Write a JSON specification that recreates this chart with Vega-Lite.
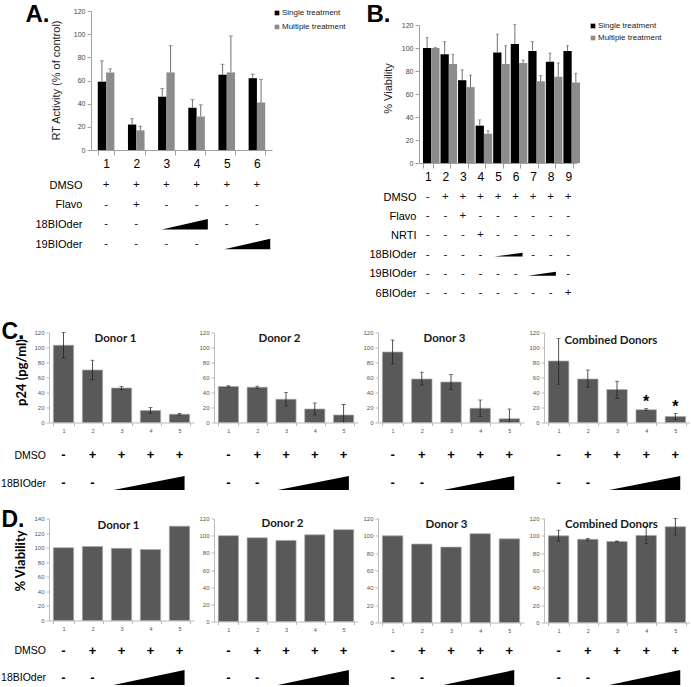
{
  "$schema": "https://vega.github.io/schema/vega-lite/v6.json",
  "padding": {"left": 0, "top": 2, "right": 0, "bottom": 0},
  "background": "white",
  "config": {
    "view": {"stroke": null},
    "font": "Liberation Sans",
    "axis": {"grid": false, "labelFont": "Liberation Sans", "titleFont": "Liberation Sans"}
  },
  "datasets": {
    "A": [
      {"cat": "1", "series": "Single treatment", "value": 59, "hi": 77},
      {"cat": "1", "series": "Multiple treatment", "value": 67, "hi": 70},
      {"cat": "2", "series": "Single treatment", "value": 22, "hi": 27},
      {"cat": "2", "series": "Multiple treatment", "value": 17, "hi": 20.5},
      {"cat": "3", "series": "Single treatment", "value": 46, "hi": 53},
      {"cat": "3", "series": "Multiple treatment", "value": 67, "hi": 90},
      {"cat": "4", "series": "Single treatment", "value": 36.5, "hi": 43.5},
      {"cat": "4", "series": "Multiple treatment", "value": 29, "hi": 39},
      {"cat": "5", "series": "Single treatment", "value": 65, "hi": 74},
      {"cat": "5", "series": "Multiple treatment", "value": 67, "hi": 98.5},
      {"cat": "6", "series": "Single treatment", "value": 62, "hi": 65.5},
      {"cat": "6", "series": "Multiple treatment", "value": 41, "hi": 61}
    ],
    "Atab": [
      {"row": "DMSO", "col": 1, "sym": "+"}, {"row": "DMSO", "col": 2, "sym": "+"}, {"row": "DMSO", "col": 3, "sym": "+"},
      {"row": "DMSO", "col": 4, "sym": "+"}, {"row": "DMSO", "col": 5, "sym": "+"}, {"row": "DMSO", "col": 6, "sym": "+"},
      {"row": "Flavo", "col": 1, "sym": "-"}, {"row": "Flavo", "col": 2, "sym": "+"}, {"row": "Flavo", "col": 3, "sym": "-"},
      {"row": "Flavo", "col": 4, "sym": "-"}, {"row": "Flavo", "col": 5, "sym": "-"}, {"row": "Flavo", "col": 6, "sym": "-"},
      {"row": "18BIOder", "col": 1, "sym": "-"}, {"row": "18BIOder", "col": 2, "sym": "-"},
      {"row": "18BIOder", "col": 5, "sym": "-"}, {"row": "18BIOder", "col": 6, "sym": "-"},
      {"row": "19BIOder", "col": 1, "sym": "-"}, {"row": "19BIOder", "col": 2, "sym": "-"},
      {"row": "19BIOder", "col": 3, "sym": "-"}, {"row": "19BIOder", "col": 4, "sym": "-"}
    ],
    "Atri": [{"row": "18BIOder", "col": 3.61}, {"row": "19BIOder", "col": 5.68}],
    "B": [
      {"cat": "1", "series": "Single treatment", "value": 100, "hi": 109},
      {"cat": "1", "series": "Multiple treatment", "value": 100, "hi": 100.5},
      {"cat": "2", "series": "Single treatment", "value": 94.5, "hi": 105.5},
      {"cat": "2", "series": "Multiple treatment", "value": 86, "hi": 94.5},
      {"cat": "3", "series": "Single treatment", "value": 72, "hi": 81},
      {"cat": "3", "series": "Multiple treatment", "value": 66, "hi": 76.5},
      {"cat": "4", "series": "Single treatment", "value": 32.5, "hi": 37.5},
      {"cat": "4", "series": "Multiple treatment", "value": 25.5, "hi": 28},
      {"cat": "5", "series": "Single treatment", "value": 96, "hi": 112},
      {"cat": "5", "series": "Multiple treatment", "value": 86, "hi": 102},
      {"cat": "6", "series": "Single treatment", "value": 103.5, "hi": 120.5},
      {"cat": "6", "series": "Multiple treatment", "value": 87, "hi": 89.5},
      {"cat": "7", "series": "Single treatment", "value": 97.5, "hi": 105.5},
      {"cat": "7", "series": "Multiple treatment", "value": 71, "hi": 76},
      {"cat": "8", "series": "Single treatment", "value": 88, "hi": 95.5},
      {"cat": "8", "series": "Multiple treatment", "value": 75, "hi": 87},
      {"cat": "9", "series": "Single treatment", "value": 97.5, "hi": 102},
      {"cat": "9", "series": "Multiple treatment", "value": 70, "hi": 78}
    ],
    "Btab": [
      {"row": "DMSO", "col": 1, "sym": "-"}, {"row": "DMSO", "col": 2, "sym": "+"}, {"row": "DMSO", "col": 3, "sym": "+"},
      {"row": "DMSO", "col": 4, "sym": "+"}, {"row": "DMSO", "col": 5, "sym": "+"}, {"row": "DMSO", "col": 6, "sym": "+"},
      {"row": "DMSO", "col": 7, "sym": "+"}, {"row": "DMSO", "col": 8, "sym": "+"}, {"row": "DMSO", "col": 9, "sym": "+"},
      {"row": "Flavo", "col": 1, "sym": "-"}, {"row": "Flavo", "col": 2, "sym": "-"}, {"row": "Flavo", "col": 3, "sym": "+"},
      {"row": "Flavo", "col": 4, "sym": "-"}, {"row": "Flavo", "col": 5, "sym": "-"}, {"row": "Flavo", "col": 6, "sym": "-"},
      {"row": "Flavo", "col": 7, "sym": "-"}, {"row": "Flavo", "col": 8, "sym": "-"}, {"row": "Flavo", "col": 9, "sym": "-"},
      {"row": "NRTI", "col": 1, "sym": "-"}, {"row": "NRTI", "col": 2, "sym": "-"}, {"row": "NRTI", "col": 3, "sym": "-"},
      {"row": "NRTI", "col": 4, "sym": "+"}, {"row": "NRTI", "col": 5, "sym": "-"}, {"row": "NRTI", "col": 6, "sym": "-"},
      {"row": "NRTI", "col": 7, "sym": "-"}, {"row": "NRTI", "col": 8, "sym": "-"}, {"row": "NRTI", "col": 9, "sym": "-"},
      {"row": "18BIOder", "col": 1, "sym": "-"}, {"row": "18BIOder", "col": 2, "sym": "-"}, {"row": "18BIOder", "col": 3, "sym": "-"},
      {"row": "18BIOder", "col": 4, "sym": "-"}, {"row": "18BIOder", "col": 7, "sym": "-"}, {"row": "18BIOder", "col": 8, "sym": "-"},
      {"row": "18BIOder", "col": 9, "sym": "-"},
      {"row": "19BIOder", "col": 1, "sym": "-"}, {"row": "19BIOder", "col": 2, "sym": "-"}, {"row": "19BIOder", "col": 3, "sym": "-"},
      {"row": "19BIOder", "col": 4, "sym": "-"}, {"row": "19BIOder", "col": 5, "sym": "-"}, {"row": "19BIOder", "col": 6, "sym": "-"},
      {"row": "19BIOder", "col": 9, "sym": "-"},
      {"row": "6BIOder", "col": 1, "sym": "-"}, {"row": "6BIOder", "col": 2, "sym": "-"}, {"row": "6BIOder", "col": 3, "sym": "-"},
      {"row": "6BIOder", "col": 4, "sym": "-"}, {"row": "6BIOder", "col": 5, "sym": "-"}, {"row": "6BIOder", "col": 6, "sym": "-"},
      {"row": "6BIOder", "col": 7, "sym": "-"}, {"row": "6BIOder", "col": 8, "sym": "-"}, {"row": "6BIOder", "col": 9, "sym": "+"}
    ],
    "Btri": [{"row": "18BIOder", "col": 5.6}, {"row": "19BIOder", "col": 7.5}],
    "CD": [
      {"panel": "C1", "col": "1", "value": 103, "lo": 86, "hi": 120},
      {"panel": "C1", "col": "2", "value": 70, "lo": 57, "hi": 83},
      {"panel": "C1", "col": "3", "value": 46, "lo": 44, "hi": 48},
      {"panel": "C1", "col": "4", "value": 16, "lo": 12, "hi": 20},
      {"panel": "C1", "col": "5", "value": 11, "lo": 10, "hi": 12},
      {"panel": "C2", "col": "1", "value": 48, "lo": 47, "hi": 49},
      {"panel": "C2", "col": "2", "value": 47, "lo": 45.5, "hi": 48.5},
      {"panel": "C2", "col": "3", "value": 31, "lo": 22, "hi": 40},
      {"panel": "C2", "col": "4", "value": 18, "lo": 10, "hi": 26},
      {"panel": "C2", "col": "5", "value": 10, "lo": 0, "hi": 24},
      {"panel": "C3", "col": "1", "value": 94, "lo": 78, "hi": 110},
      {"panel": "C3", "col": "2", "value": 58, "lo": 50, "hi": 67},
      {"panel": "C3", "col": "3", "value": 54, "lo": 44, "hi": 64},
      {"panel": "C3", "col": "4", "value": 19, "lo": 8, "hi": 30},
      {"panel": "C3", "col": "5", "value": 5, "lo": 0, "hi": 18},
      {"panel": "C4", "col": "1", "value": 82, "lo": 51, "hi": 112},
      {"panel": "C4", "col": "2", "value": 58, "lo": 47, "hi": 70},
      {"panel": "C4", "col": "3", "value": 44, "lo": 32, "hi": 55},
      {"panel": "C4", "col": "4", "value": 17, "lo": 16, "hi": 18.5, "sig": "*"},
      {"panel": "C4", "col": "5", "value": 8, "lo": 4, "hi": 12, "sig": "*"},
      {"panel": "D1", "col": "1", "value": 100},
      {"panel": "D1", "col": "2", "value": 101.5},
      {"panel": "D1", "col": "3", "value": 99},
      {"panel": "D1", "col": "4", "value": 97.5},
      {"panel": "D1", "col": "5", "value": 129.5},
      {"panel": "D2", "col": "1", "value": 100},
      {"panel": "D2", "col": "2", "value": 97.5},
      {"panel": "D2", "col": "3", "value": 94.5},
      {"panel": "D2", "col": "4", "value": 101},
      {"panel": "D2", "col": "5", "value": 107},
      {"panel": "D3", "col": "1", "value": 100},
      {"panel": "D3", "col": "2", "value": 90.5},
      {"panel": "D3", "col": "3", "value": 87},
      {"panel": "D3", "col": "4", "value": 102.5},
      {"panel": "D3", "col": "5", "value": 96.5},
      {"panel": "D4", "col": "1", "value": 100, "lo": 94, "hi": 106.5},
      {"panel": "D4", "col": "2", "value": 96, "lo": 95, "hi": 97},
      {"panel": "D4", "col": "3", "value": 93.5, "lo": 93, "hi": 94},
      {"panel": "D4", "col": "4", "value": 100.5, "lo": 91, "hi": 111},
      {"panel": "D4", "col": "5", "value": 110.5, "lo": 101, "hi": 120}
    ],
    "CDtab": [
      {"row": "DMSO", "col": 1, "sym": "-"}, {"row": "DMSO", "col": 2, "sym": "+"}, {"row": "DMSO", "col": 3, "sym": "+"},
      {"row": "DMSO", "col": 4, "sym": "+"}, {"row": "DMSO", "col": 5, "sym": "+"},
      {"row": "18BIOder", "col": 1, "sym": "-"}, {"row": "18BIOder", "col": 2, "sym": "-"}
    ],
    "CDtri": [{"row": "18BIOder", "col": 3.95}]
  },
  "spacing": 20.5,
  "resolve": {"scale": {"color": "independent"}, "legend": {"color": "independent"}},
  "vconcat": [
    {
      "hconcat": [
        {"width": 41, "height": 20, "data": {"values": []}, "mark": "point", "encoding": {}},
        {
          "width": 181, "height": 139,
          "layer": [
            {
              "data": {"name": "A"},
              "encoding": {
                "x": {"field": "cat", "type": "ordinal", "scale": {"paddingInner": 0.45, "paddingOuter": 0.225},
                  "axis": {"title": null, "labelAngle": 0, "labelFontSize": 12, "labelColor": "#000", "tickBand": "extent", "tickSize": 5, "tickColor": "#a0a0a0", "domainColor": "#a0a0a0", "labelPadding": 3}},
                "xOffset": {"field": "series", "type": "nominal", "sort": ["Single treatment", "Multiple treatment"]}
              },
              "layer": [
                {"mark": {"type": "bar"},
                 "encoding": {
                   "y": {"field": "value", "type": "quantitative", "scale": {"domain": [0, 120]},
                     "axis": {"values": [0, 20, 40, 60, 80, 100, 120], "title": "RT Activity (% of control)", "titleX": -35, "titleY": 69, "titleBaseline": "middle", "titleFontSize": 11, "titleFontWeight": "normal", "titleColor": "#222", "labelFontSize": 7, "labelColor": "#444", "tickSize": 4, "tickColor": "#a0a0a0", "domainColor": "#a0a0a0", "labelPadding": 2}},
                   "color": {"field": "series", "type": "nominal", "sort": ["Single treatment", "Multiple treatment"],
                     "scale": {"domain": ["Single treatment", "Multiple treatment"], "range": ["#000000", "#8c8c8c"]},
                     "legend": {"orient": "none", "legendX": 182, "legendY": -2, "title": null, "symbolType": "square", "symbolSize": 22, "labelFontSize": 8, "labelFont": "Liberation Sans", "labelColor": "#222", "rowPadding": 6, "labelOffset": 1, "padding": 0}}
                 }},
                {"mark": {"type": "rule", "color": "#707070", "strokeWidth": 1},
                 "encoding": {"y": {"field": "value", "type": "quantitative", "scale": {"domain": [0, 120]},
                     "axis": {"values": [0, 20, 40, 60, 80, 100, 120], "title": "RT Activity (% of control)", "titleX": -35, "titleY": 69, "titleBaseline": "middle", "titleFontSize": 11, "titleFontWeight": "normal", "titleColor": "#222", "labelFontSize": 7, "labelColor": "#444", "tickSize": 4, "tickColor": "#a0a0a0", "domainColor": "#a0a0a0", "labelPadding": 2}},
                   "y2": {"field": "hi"}}},
                {"mark": {"type": "tick", "color": "#707070", "size": 4, "thickness": 1},
                 "encoding": {"y": {"field": "hi", "type": "quantitative", "scale": {"domain": [0, 120]},
                     "axis": {"values": [0, 20, 40, 60, 80, 100, 120], "title": "RT Activity (% of control)", "titleX": -35, "titleY": 69, "titleBaseline": "middle", "titleFontSize": 11, "titleFontWeight": "normal", "titleColor": "#222", "labelFontSize": 7, "labelColor": "#444", "tickSize": 4, "tickColor": "#a0a0a0", "domainColor": "#a0a0a0", "labelPadding": 2}}}}
              ]
            },
            {
              "encoding": {
                "x": {"field": "col", "type": "quantitative", "scale": {"domain": [0.5, 6.5], "nice": false, "zero": false}, "axis": null},
                "y": {"field": "row", "type": "nominal", "scale": {"type": "point", "domain": ["DMSO", "Flavo", "18BIOder", "19BIOder"], "range": [174, 233], "padding": 0},
                  "axis": {"orient": "left", "domain": false, "ticks": false, "labelPadding": 9, "labelFontSize": 11, "labelColor": "#000", "title": "A.", "titleAngle": 0, "titleX": -66, "titleY": 10, "titleAlign": "left", "titleBaseline": "alphabetic", "titleFontSize": 24, "titleFontWeight": "bold", "titleColor": "#000"}}
              },
              "layer": [
                {"data": {"name": "Atab"}, "mark": {"type": "text", "fontSize": 11.5, "color": "#111", "baseline": "middle"}, "encoding": {"text": {"field": "sym"}}},
                {"data": {"name": "Atri"}, "mark": {"type": "point", "shape": "M-1,0.23L1,0.23L1,-0.23Z", "size": 2116, "filled": true, "color": "#000", "opacity": 1, "strokeWidth": 0}}
              ]
            }
          ],
          "resolve": {"scale": {"x": "independent", "y": "independent"}}
        },
        {"width": 145, "height": 20, "data": {"values": []}, "mark": "point", "encoding": {}},
        {
          "width": 158, "height": 152,
          "layer": [
            {
              "data": {"name": "B"},
              "encoding": {
                "x": {"field": "cat", "type": "ordinal", "scale": {"paddingInner": 0.45, "paddingOuter": 0.225},
                  "axis": {"title": null, "labelAngle": 0, "labelFontSize": 12, "labelColor": "#000", "tickBand": "extent", "tickSize": 5, "tickColor": "#a0a0a0", "domainColor": "#a0a0a0", "labelPadding": 3}},
                "xOffset": {"field": "series", "type": "nominal", "sort": ["Single treatment", "Multiple treatment"]}
              },
              "layer": [
                {"mark": {"type": "bar"},
                 "encoding": {
                   "y": {"field": "value", "type": "quantitative", "scale": {"domain": [0, 120], "range": [152, 14]},
                     "axis": {"values": [0, 20, 40, 60, 80, 100, 120], "title": "% Viability", "titleX": -30.5, "titleY": 77, "titleBaseline": "middle", "titleFontSize": 11, "titleFontWeight": "normal", "titleColor": "#222", "labelFontSize": 7, "labelColor": "#444", "tickSize": 4, "tickColor": "#a0a0a0", "domainColor": "#a0a0a0", "labelPadding": 2}},
                   "color": {"field": "series", "type": "nominal", "sort": ["Single treatment", "Multiple treatment"],
                     "scale": {"domain": ["Single treatment", "Multiple treatment"], "range": ["#000000", "#8c8c8c"]},
                     "legend": {"orient": "none", "legendX": 170, "legendY": 11, "title": null, "symbolType": "square", "symbolSize": 22, "labelFontSize": 8, "labelFont": "Liberation Sans", "labelColor": "#222", "rowPadding": 4, "labelOffset": 1, "padding": 0}}
                 }},
                {"mark": {"type": "rule", "color": "#707070", "strokeWidth": 1},
                 "encoding": {"y": {"field": "value", "type": "quantitative", "scale": {"domain": [0, 120], "range": [152, 14]},
                     "axis": {"values": [0, 20, 40, 60, 80, 100, 120], "title": "% Viability", "titleX": -30.5, "titleY": 77, "titleBaseline": "middle", "titleFontSize": 11, "titleFontWeight": "normal", "titleColor": "#222", "labelFontSize": 7, "labelColor": "#444", "tickSize": 4, "tickColor": "#a0a0a0", "domainColor": "#a0a0a0", "labelPadding": 2}},
                   "y2": {"field": "hi"}}},
                {"mark": {"type": "tick", "color": "#707070", "size": 3, "thickness": 1},
                 "encoding": {"y": {"field": "hi", "type": "quantitative", "scale": {"domain": [0, 120], "range": [152, 14]},
                     "axis": {"values": [0, 20, 40, 60, 80, 100, 120], "title": "% Viability", "titleX": -30.5, "titleY": 77, "titleBaseline": "middle", "titleFontSize": 11, "titleFontWeight": "normal", "titleColor": "#222", "labelFontSize": 7, "labelColor": "#444", "tickSize": 4, "tickColor": "#a0a0a0", "domainColor": "#a0a0a0", "labelPadding": 2}}}}
              ]
            },
            {
              "encoding": {
                "x": {"field": "col", "type": "quantitative", "scale": {"domain": [0.5, 9.5], "nice": false, "zero": false}, "axis": null},
                "y": {"field": "row", "type": "nominal", "scale": {"type": "point", "domain": ["DMSO", "Flavo", "NRTI", "18BIOder", "19BIOder", "6BIOder"], "range": [186, 282], "padding": 0},
                  "axis": {"orient": "left", "domain": false, "ticks": false, "labelPadding": 3, "labelFontSize": 11, "labelColor": "#000", "title": "B.", "titleAngle": 0, "titleX": -53, "titleY": 10, "titleAlign": "left", "titleBaseline": "alphabetic", "titleFontSize": 24, "titleFontWeight": "bold", "titleColor": "#000"}}
              },
              "layer": [
                {"data": {"name": "Btab"}, "mark": {"type": "text", "fontSize": 11.5, "color": "#111", "baseline": "middle"}, "encoding": {"text": {"field": "sym"}}},
                {"data": {"name": "Btri"}, "mark": {"type": "point", "shape": "M-1,0.14L1,0.14L1,-0.14Z", "size": 784, "filled": true, "color": "#000", "opacity": 1, "strokeWidth": 0}}
              ]
            }
          ],
          "resolve": {"scale": {"x": "independent", "y": "independent"}}
        }
      ],
      "spacing": 1,
      "bounds": "flush",
      "resolve": {"scale": {"color": "independent"}, "legend": {"color": "independent"}}
    },
    {
      "spacing": 18,
      "vconcat": [
        {
          "hconcat": [
            {
              "width": 145, "height": 90,
              "layer": [
                {"data": {"name": "CD"}, "transform": [{"filter": "datum.panel === 'C1'"}],
                 "encoding": {"x": {"field": "col", "type": "ordinal", "scale": {"paddingInner": 0.3, "paddingOuter": 0.15}, "axis": {"title": null, "labelAngle": 0, "labelFontSize": 5.5, "labelColor": "#555", "tickBand": "extent", "tickSize": 3, "tickColor": "#bbb", "domainColor": "#bbb", "labelPadding": 3}}},
                 "layer": [
                   {"mark": {"type": "bar", "color": "#595959", "stroke": "#aaaaaa", "strokeWidth": 0.7},
                    "encoding": {"y": {"field": "value", "type": "quantitative", "scale": {"domain": [0, 120]}, "axis": {"values": [0, 20, 40, 60, 80, 100, 120], "title": "p24 (pg/ml)", "titleX": -28, "titleY": 39.5, "titleBaseline": "middle", "titleFont": "Lato", "titleFontSize": 13, "titleFontWeight": "bold", "titleColor": "#000", "labelFontSize": 6, "labelColor": "#555", "tickSize": 3, "tickColor": "#bbb", "domainColor": "#bbb", "labelPadding": 2}}}},
                   {"transform": [{"filter": "isValid(datum.hi)"}], "mark": {"type": "rule", "color": "#222", "strokeWidth": 0.8},
                    "encoding": {"y": {"field": "lo", "type": "quantitative", "scale": {"domain": [0, 120]}, "axis": {"values": [0, 20, 40, 60, 80, 100, 120], "title": "p24 (pg/ml)", "titleX": -28, "titleY": 39.5, "titleBaseline": "middle", "titleFont": "Lato", "titleFontSize": 13, "titleFontWeight": "bold", "titleColor": "#000", "labelFontSize": 6, "labelColor": "#555", "tickSize": 3, "tickColor": "#bbb", "domainColor": "#bbb", "labelPadding": 2}}, "y2": {"field": "hi"}}},
                   {"transform": [{"filter": "isValid(datum.hi)"}], "mark": {"type": "tick", "color": "#222", "size": 4, "thickness": 0.8},
                    "encoding": {"y": {"field": "hi", "type": "quantitative", "scale": {"domain": [0, 120]}, "axis": {"values": [0, 20, 40, 60, 80, 100, 120], "title": "p24 (pg/ml)", "titleX": -28, "titleY": 39.5, "titleBaseline": "middle", "titleFont": "Lato", "titleFontSize": 13, "titleFontWeight": "bold", "titleColor": "#000", "labelFontSize": 6, "labelColor": "#555", "tickSize": 3, "tickColor": "#bbb", "domainColor": "#bbb", "labelPadding": 2}}}},
                   {"transform": [{"filter": "isValid(datum.hi)"}], "mark": {"type": "tick", "color": "#222", "size": 4, "thickness": 0.8},
                    "encoding": {"y": {"field": "lo", "type": "quantitative", "scale": {"domain": [0, 120]}, "axis": {"values": [0, 20, 40, 60, 80, 100, 120], "title": "p24 (pg/ml)", "titleX": -28, "titleY": 39.5, "titleBaseline": "middle", "titleFont": "Lato", "titleFontSize": 13, "titleFontWeight": "bold", "titleColor": "#000", "labelFontSize": 6, "labelColor": "#555", "tickSize": 3, "tickColor": "#bbb", "domainColor": "#bbb", "labelPadding": 2}}}}
                 ]},
                {"encoding": {
                   "x": {"field": "col", "type": "quantitative", "scale": {"domain": [0.5, 5.5], "nice": false, "zero": false},
                     "axis": {"orient": "top", "labels": false, "ticks": false, "domain": false, "title": "Donor 1", "titleX": 66, "titleY": 8.5, "titleAlign": "center", "titleBaseline": "alphabetic", "titleFont": "Lato", "titleFontSize": 11.5, "titleFontWeight": "bold", "titleColor": "#1a1a1a"}},
                   "y": {"field": "row", "type": "nominal", "scale": {"type": "point", "domain": ["DMSO", "18BIOder"], "range": [122.5, 150.5], "padding": 0},
                     "axis": {"orient": "left", "domain": false, "ticks": false, "labelPadding": 3.5, "labelFontSize": 10.5, "labelColor": "#000", "title": "C.", "titleAngle": 0, "titleX": -48, "titleY": 5.5, "titleAlign": "left", "titleBaseline": "alphabetic", "titleFontSize": 23, "titleFontWeight": "bold", "titleColor": "#000"}}},
                 "layer": [
                   {"data": {"name": "CDtab"}, "mark": {"type": "text", "fontSize": 13, "fontWeight": "bold", "color": "#000", "baseline": "middle"}, "encoding": {"text": {"field": "sym"}}},
                   {"data": {"name": "CDtri"}, "mark": {"type": "point", "shape": "M-1,0.2L1,0.2L1,-0.2Z", "size": 5041, "filled": true, "color": "#000", "opacity": 1, "strokeWidth": 0}}
                 ]}
              ],
              "resolve": {"scale": {"x": "independent", "y": "independent"}}
            },
            {
              "width": 144, "height": 90,
              "layer": [
                {"data": {"name": "CD"}, "transform": [{"filter": "datum.panel === 'C2'"}],
                 "encoding": {"x": {"field": "col", "type": "ordinal", "scale": {"paddingInner": 0.3, "paddingOuter": 0.15}, "axis": {"title": null, "labelAngle": 0, "labelFontSize": 5.5, "labelColor": "#555", "tickBand": "extent", "tickSize": 3, "tickColor": "#bbb", "domainColor": "#bbb", "labelPadding": 3}}},
                 "layer": [
                   {"mark": {"type": "bar", "color": "#595959", "stroke": "#aaaaaa", "strokeWidth": 0.7},
                    "encoding": {"y": {"field": "value", "type": "quantitative", "scale": {"domain": [0, 120]}, "axis": {"values": [0, 20, 40, 60, 80, 100, 120], "title": null, "labelFontSize": 6, "labelColor": "#555", "tickSize": 3, "tickColor": "#bbb", "domainColor": "#bbb", "labelPadding": 2}}}},
                   {"transform": [{"filter": "isValid(datum.hi)"}], "mark": {"type": "rule", "color": "#222", "strokeWidth": 0.8},
                    "encoding": {"y": {"field": "lo", "type": "quantitative", "scale": {"domain": [0, 120]}, "axis": {"values": [0, 20, 40, 60, 80, 100, 120], "title": null, "labelFontSize": 6, "labelColor": "#555", "tickSize": 3, "tickColor": "#bbb", "domainColor": "#bbb", "labelPadding": 2}}, "y2": {"field": "hi"}}},
                   {"transform": [{"filter": "isValid(datum.hi)"}], "mark": {"type": "tick", "color": "#222", "size": 4, "thickness": 0.8},
                    "encoding": {"y": {"field": "hi", "type": "quantitative", "scale": {"domain": [0, 120]}, "axis": {"values": [0, 20, 40, 60, 80, 100, 120], "title": null, "labelFontSize": 6, "labelColor": "#555", "tickSize": 3, "tickColor": "#bbb", "domainColor": "#bbb", "labelPadding": 2}}}},
                   {"transform": [{"filter": "isValid(datum.hi) && datum.lo > 0"}], "mark": {"type": "tick", "color": "#222", "size": 4, "thickness": 0.8},
                    "encoding": {"y": {"field": "lo", "type": "quantitative", "scale": {"domain": [0, 120]}, "axis": {"values": [0, 20, 40, 60, 80, 100, 120], "title": null, "labelFontSize": 6, "labelColor": "#555", "tickSize": 3, "tickColor": "#bbb", "domainColor": "#bbb", "labelPadding": 2}}}}
                 ]},
                {"encoding": {
                   "x": {"field": "col", "type": "quantitative", "scale": {"domain": [0.5, 5.5], "nice": false, "zero": false},
                     "axis": {"orient": "top", "labels": false, "ticks": false, "domain": false, "title": "Donor 2", "titleX": 65, "titleY": 8.5, "titleAlign": "center", "titleBaseline": "alphabetic", "titleFont": "Lato", "titleFontSize": 11.5, "titleFontWeight": "bold", "titleColor": "#1a1a1a"}},
                   "y": {"field": "row", "type": "nominal", "scale": {"type": "point", "domain": ["DMSO", "18BIOder"], "range": [122.5, 150.5], "padding": 0}, "axis": null}},
                 "layer": [
                   {"data": {"name": "CDtab"}, "mark": {"type": "text", "fontSize": 13, "fontWeight": "bold", "color": "#000", "baseline": "middle"}, "encoding": {"text": {"field": "sym"}}},
                   {"data": {"name": "CDtri"}, "mark": {"type": "point", "shape": "M-1,0.2L1,0.2L1,-0.2Z", "size": 5041, "filled": true, "color": "#000", "opacity": 1, "strokeWidth": 0}}
                 ]}
              ],
              "resolve": {"scale": {"x": "independent", "y": "independent"}}
            },
            {
              "width": 146, "height": 90,
              "layer": [
                {"data": {"name": "CD"}, "transform": [{"filter": "datum.panel === 'C3'"}],
                 "encoding": {"x": {"field": "col", "type": "ordinal", "scale": {"paddingInner": 0.3, "paddingOuter": 0.15}, "axis": {"title": null, "labelAngle": 0, "labelFontSize": 5.5, "labelColor": "#555", "tickBand": "extent", "tickSize": 3, "tickColor": "#bbb", "domainColor": "#bbb", "labelPadding": 3}}},
                 "layer": [
                   {"mark": {"type": "bar", "color": "#595959", "stroke": "#aaaaaa", "strokeWidth": 0.7},
                    "encoding": {"y": {"field": "value", "type": "quantitative", "scale": {"domain": [0, 120]}, "axis": {"values": [0, 20, 40, 60, 80, 100, 120], "title": null, "labelFontSize": 6, "labelColor": "#555", "tickSize": 3, "tickColor": "#bbb", "domainColor": "#bbb", "labelPadding": 2}}}},
                   {"transform": [{"filter": "isValid(datum.hi)"}], "mark": {"type": "rule", "color": "#222", "strokeWidth": 0.8},
                    "encoding": {"y": {"field": "lo", "type": "quantitative", "scale": {"domain": [0, 120]}, "axis": {"values": [0, 20, 40, 60, 80, 100, 120], "title": null, "labelFontSize": 6, "labelColor": "#555", "tickSize": 3, "tickColor": "#bbb", "domainColor": "#bbb", "labelPadding": 2}}, "y2": {"field": "hi"}}},
                   {"transform": [{"filter": "isValid(datum.hi)"}], "mark": {"type": "tick", "color": "#222", "size": 4, "thickness": 0.8},
                    "encoding": {"y": {"field": "hi", "type": "quantitative", "scale": {"domain": [0, 120]}, "axis": {"values": [0, 20, 40, 60, 80, 100, 120], "title": null, "labelFontSize": 6, "labelColor": "#555", "tickSize": 3, "tickColor": "#bbb", "domainColor": "#bbb", "labelPadding": 2}}}},
                   {"transform": [{"filter": "isValid(datum.hi) && datum.lo > 0"}], "mark": {"type": "tick", "color": "#222", "size": 4, "thickness": 0.8},
                    "encoding": {"y": {"field": "lo", "type": "quantitative", "scale": {"domain": [0, 120]}, "axis": {"values": [0, 20, 40, 60, 80, 100, 120], "title": null, "labelFontSize": 6, "labelColor": "#555", "tickSize": 3, "tickColor": "#bbb", "domainColor": "#bbb", "labelPadding": 2}}}}
                 ]},
                {"encoding": {
                   "x": {"field": "col", "type": "quantitative", "scale": {"domain": [0.5, 5.5], "nice": false, "zero": false},
                     "axis": {"orient": "top", "labels": false, "ticks": false, "domain": false, "title": "Donor 3", "titleX": 66, "titleY": 8.5, "titleAlign": "center", "titleBaseline": "alphabetic", "titleFont": "Lato", "titleFontSize": 11.5, "titleFontWeight": "bold", "titleColor": "#1a1a1a"}},
                   "y": {"field": "row", "type": "nominal", "scale": {"type": "point", "domain": ["DMSO", "18BIOder"], "range": [122.5, 150.5], "padding": 0}, "axis": null}},
                 "layer": [
                   {"data": {"name": "CDtab"}, "mark": {"type": "text", "fontSize": 13, "fontWeight": "bold", "color": "#000", "baseline": "middle"}, "encoding": {"text": {"field": "sym"}}},
                   {"data": {"name": "CDtri"}, "mark": {"type": "point", "shape": "M-1,0.2L1,0.2L1,-0.2Z", "size": 5041, "filled": true, "color": "#000", "opacity": 1, "strokeWidth": 0}}
                 ]}
              ],
              "resolve": {"scale": {"x": "independent", "y": "independent"}}
            },
            {
              "width": 146, "height": 90,
              "layer": [
                {"data": {"name": "CD"}, "transform": [{"filter": "datum.panel === 'C4'"}],
                 "encoding": {"x": {"field": "col", "type": "ordinal", "scale": {"paddingInner": 0.3, "paddingOuter": 0.15}, "axis": {"title": null, "labelAngle": 0, "labelFontSize": 5.5, "labelColor": "#555", "tickBand": "extent", "tickSize": 3, "tickColor": "#bbb", "domainColor": "#bbb", "labelPadding": 3}}},
                 "layer": [
                   {"mark": {"type": "bar", "color": "#595959", "stroke": "#aaaaaa", "strokeWidth": 0.7},
                    "encoding": {"y": {"field": "value", "type": "quantitative", "scale": {"domain": [0, 120]}, "axis": {"values": [0, 20, 40, 60, 80, 100, 120], "title": null, "labelFontSize": 6, "labelColor": "#555", "tickSize": 3, "tickColor": "#bbb", "domainColor": "#bbb", "labelPadding": 2}}}},
                   {"transform": [{"filter": "isValid(datum.hi)"}], "mark": {"type": "rule", "color": "#222", "strokeWidth": 0.8},
                    "encoding": {"y": {"field": "lo", "type": "quantitative", "scale": {"domain": [0, 120]}, "axis": {"values": [0, 20, 40, 60, 80, 100, 120], "title": null, "labelFontSize": 6, "labelColor": "#555", "tickSize": 3, "tickColor": "#bbb", "domainColor": "#bbb", "labelPadding": 2}}, "y2": {"field": "hi"}}},
                   {"transform": [{"filter": "isValid(datum.hi)"}], "mark": {"type": "tick", "color": "#222", "size": 4, "thickness": 0.8},
                    "encoding": {"y": {"field": "hi", "type": "quantitative", "scale": {"domain": [0, 120]}, "axis": {"values": [0, 20, 40, 60, 80, 100, 120], "title": null, "labelFontSize": 6, "labelColor": "#555", "tickSize": 3, "tickColor": "#bbb", "domainColor": "#bbb", "labelPadding": 2}}}},
                   {"transform": [{"filter": "isValid(datum.hi)"}], "mark": {"type": "tick", "color": "#222", "size": 4, "thickness": 0.8},
                    "encoding": {"y": {"field": "lo", "type": "quantitative", "scale": {"domain": [0, 120]}, "axis": {"values": [0, 20, 40, 60, 80, 100, 120], "title": null, "labelFontSize": 6, "labelColor": "#555", "tickSize": 3, "tickColor": "#bbb", "domainColor": "#bbb", "labelPadding": 2}}}},
                   {"transform": [{"filter": "isValid(datum.sig)"}], "mark": {"type": "text", "fontSize": 16, "fontWeight": "bold", "color": "#000", "baseline": "alphabetic", "dy": -2},
                    "encoding": {"y": {"field": "hi", "type": "quantitative", "scale": {"domain": [0, 120]}, "axis": {"values": [0, 20, 40, 60, 80, 100, 120], "title": null, "labelFontSize": 6, "labelColor": "#555", "tickSize": 3, "tickColor": "#bbb", "domainColor": "#bbb", "labelPadding": 2}}, "text": {"field": "sig"}}}
                 ]},
                {"encoding": {
                   "x": {"field": "col", "type": "quantitative", "scale": {"domain": [0.5, 5.5], "nice": false, "zero": false},
                     "axis": {"orient": "top", "labels": false, "ticks": false, "domain": false, "title": "Combined Donors", "titleX": 66.5, "titleY": 10.5, "titleAlign": "center", "titleBaseline": "alphabetic", "titleFont": "Lato", "titleFontSize": 11.5, "titleFontWeight": "bold", "titleColor": "#1a1a1a"}},
                   "y": {"field": "row", "type": "nominal", "scale": {"type": "point", "domain": ["DMSO", "18BIOder"], "range": [122.5, 150.5], "padding": 0}, "axis": null}},
                 "layer": [
                   {"data": {"name": "CDtab"}, "mark": {"type": "text", "fontSize": 13, "fontWeight": "bold", "color": "#000", "baseline": "middle"}, "encoding": {"text": {"field": "sym"}}},
                   {"data": {"name": "CDtri"}, "mark": {"type": "point", "shape": "M-1,0.2L1,0.2L1,-0.2Z", "size": 5041, "filled": true, "color": "#000", "opacity": 1, "strokeWidth": 0}}
                 ]}
              ],
              "resolve": {"scale": {"x": "independent", "y": "independent"}}
            }
          ],
          "spacing": 20,
          "bounds": "flush"
        },
        {
          "hconcat": [
            {
              "width": 145, "height": 102,
              "layer": [
                {"data": {"name": "CD"}, "transform": [{"filter": "datum.panel === 'D1'"}],
                 "encoding": {"x": {"field": "col", "type": "ordinal", "scale": {"paddingInner": 0.3, "paddingOuter": 0.15}, "axis": {"title": null, "labelAngle": 0, "labelFontSize": 5.5, "labelColor": "#555", "tickBand": "extent", "tickSize": 3, "tickColor": "#bbb", "domainColor": "#bbb", "labelPadding": 3}}},
                 "layer": [
                   {"mark": {"type": "bar", "color": "#595959", "stroke": "#aaaaaa", "strokeWidth": 0.7},
                    "encoding": {"y": {"field": "value", "type": "quantitative", "scale": {"domain": [0, 140]}, "axis": {"values": [0, 20, 40, 60, 80, 100, 120, 140], "title": "% Viability", "titleX": -29, "titleY": 42, "titleBaseline": "middle", "titleFont": "Lato", "titleFontSize": 13, "titleFontWeight": "bold", "titleColor": "#000", "labelFontSize": 6, "labelColor": "#555", "tickSize": 3, "tickColor": "#bbb", "domainColor": "#bbb", "labelPadding": 2}}}}
                 ]},
                {"encoding": {
                   "x": {"field": "col", "type": "quantitative", "scale": {"domain": [0.5, 5.5], "nice": false, "zero": false},
                     "axis": {"orient": "top", "labels": false, "ticks": false, "domain": false, "title": "Donor 1", "titleX": 69, "titleY": 9.5, "titleAlign": "center", "titleBaseline": "alphabetic", "titleFont": "Lato", "titleFontSize": 11.5, "titleFontWeight": "bold", "titleColor": "#1a1a1a"}},
                   "y": {"field": "row", "type": "nominal", "scale": {"type": "point", "domain": ["DMSO", "18BIOder"], "range": [132, 159], "padding": 0},
                     "axis": {"orient": "left", "domain": false, "ticks": false, "labelPadding": 3.5, "labelFontSize": 10.5, "labelColor": "#000", "title": "D.", "titleAngle": 0, "titleX": -48, "titleY": 8, "titleAlign": "left", "titleBaseline": "alphabetic", "titleFontSize": 23, "titleFontWeight": "bold", "titleColor": "#000"}}},
                 "layer": [
                   {"data": {"name": "CDtab"}, "mark": {"type": "text", "fontSize": 13, "fontWeight": "bold", "color": "#000", "baseline": "middle"}, "encoding": {"text": {"field": "sym"}}},
                   {"data": {"name": "CDtri"}, "mark": {"type": "point", "shape": "M-1,0.21L1,0.21L1,-0.21Z", "size": 5041, "filled": true, "color": "#000", "opacity": 1, "strokeWidth": 0}}
                 ]}
              ],
              "resolve": {"scale": {"x": "independent", "y": "independent"}}
            },
            {
              "width": 144, "height": 103,
              "layer": [
                {"data": {"name": "CD"}, "transform": [{"filter": "datum.panel === 'D2'"}],
                 "encoding": {"x": {"field": "col", "type": "ordinal", "scale": {"paddingInner": 0.3, "paddingOuter": 0.15}, "axis": {"title": null, "labelAngle": 0, "labelFontSize": 5.5, "labelColor": "#555", "tickBand": "extent", "tickSize": 3, "tickColor": "#bbb", "domainColor": "#bbb", "labelPadding": 3}}},
                 "layer": [
                   {"mark": {"type": "bar", "color": "#595959", "stroke": "#aaaaaa", "strokeWidth": 0.7},
                    "encoding": {"y": {"field": "value", "type": "quantitative", "scale": {"domain": [0, 120]}, "axis": {"values": [0, 20, 40, 60, 80, 100, 120], "title": null, "labelFontSize": 6, "labelColor": "#555", "tickSize": 3, "tickColor": "#bbb", "domainColor": "#bbb", "labelPadding": 2}}}}
                 ]},
                {"encoding": {
                   "x": {"field": "col", "type": "quantitative", "scale": {"domain": [0.5, 5.5], "nice": false, "zero": false},
                     "axis": {"orient": "top", "labels": false, "ticks": false, "domain": false, "title": "Donor 2", "titleX": 68, "titleY": 8, "titleAlign": "center", "titleBaseline": "alphabetic", "titleFont": "Lato", "titleFontSize": 11.5, "titleFontWeight": "bold", "titleColor": "#1a1a1a"}},
                   "y": {"field": "row", "type": "nominal", "scale": {"type": "point", "domain": ["DMSO", "18BIOder"], "range": [132, 159], "padding": 0}, "axis": null}},
                 "layer": [
                   {"data": {"name": "CDtab"}, "mark": {"type": "text", "fontSize": 13, "fontWeight": "bold", "color": "#000", "baseline": "middle"}, "encoding": {"text": {"field": "sym"}}},
                   {"data": {"name": "CDtri"}, "mark": {"type": "point", "shape": "M-1,0.21L1,0.21L1,-0.21Z", "size": 5041, "filled": true, "color": "#000", "opacity": 1, "strokeWidth": 0}}
                 ]}
              ],
              "resolve": {"scale": {"x": "independent", "y": "independent"}}
            },
            {
              "width": 146, "height": 104,
              "layer": [
                {"data": {"name": "CD"}, "transform": [{"filter": "datum.panel === 'D3'"}],
                 "encoding": {"x": {"field": "col", "type": "ordinal", "scale": {"paddingInner": 0.3, "paddingOuter": 0.15}, "axis": {"title": null, "labelAngle": 0, "labelFontSize": 5.5, "labelColor": "#555", "tickBand": "extent", "tickSize": 3, "tickColor": "#bbb", "domainColor": "#bbb", "labelPadding": 3}}},
                 "layer": [
                   {"mark": {"type": "bar", "color": "#595959", "stroke": "#aaaaaa", "strokeWidth": 0.7},
                    "encoding": {"y": {"field": "value", "type": "quantitative", "scale": {"domain": [0, 120]}, "axis": {"values": [0, 20, 40, 60, 80, 100, 120], "title": null, "labelFontSize": 6, "labelColor": "#555", "tickSize": 3, "tickColor": "#bbb", "domainColor": "#bbb", "labelPadding": 2}}}}
                 ]},
                {"encoding": {
                   "x": {"field": "col", "type": "quantitative", "scale": {"domain": [0.5, 5.5], "nice": false, "zero": false},
                     "axis": {"orient": "top", "labels": false, "ticks": false, "domain": false, "title": "Donor 3", "titleX": 68, "titleY": 9, "titleAlign": "center", "titleBaseline": "alphabetic", "titleFont": "Lato", "titleFontSize": 11.5, "titleFontWeight": "bold", "titleColor": "#1a1a1a"}},
                   "y": {"field": "row", "type": "nominal", "scale": {"type": "point", "domain": ["DMSO", "18BIOder"], "range": [132, 159], "padding": 0}, "axis": null}},
                 "layer": [
                   {"data": {"name": "CDtab"}, "mark": {"type": "text", "fontSize": 13, "fontWeight": "bold", "color": "#000", "baseline": "middle"}, "encoding": {"text": {"field": "sym"}}},
                   {"data": {"name": "CDtri"}, "mark": {"type": "point", "shape": "M-1,0.21L1,0.21L1,-0.21Z", "size": 5041, "filled": true, "color": "#000", "opacity": 1, "strokeWidth": 0}}
                 ]}
              ],
              "resolve": {"scale": {"x": "independent", "y": "independent"}}
            },
            {
              "width": 146, "height": 104,
              "layer": [
                {"data": {"name": "CD"}, "transform": [{"filter": "datum.panel === 'D4'"}],
                 "encoding": {"x": {"field": "col", "type": "ordinal", "scale": {"paddingInner": 0.3, "paddingOuter": 0.15}, "axis": {"title": null, "labelAngle": 0, "labelFontSize": 5.5, "labelColor": "#555", "tickBand": "extent", "tickSize": 3, "tickColor": "#bbb", "domainColor": "#bbb", "labelPadding": 3}}},
                 "layer": [
                   {"mark": {"type": "bar", "color": "#595959", "stroke": "#aaaaaa", "strokeWidth": 0.7},
                    "encoding": {"y": {"field": "value", "type": "quantitative", "scale": {"domain": [0, 120]}, "axis": {"values": [0, 20, 40, 60, 80, 100, 120], "title": null, "labelFontSize": 6, "labelColor": "#555", "tickSize": 3, "tickColor": "#bbb", "domainColor": "#bbb", "labelPadding": 2}}}},
                   {"transform": [{"filter": "isValid(datum.hi)"}], "mark": {"type": "rule", "color": "#222", "strokeWidth": 0.8},
                    "encoding": {"y": {"field": "lo", "type": "quantitative", "scale": {"domain": [0, 120]}, "axis": {"values": [0, 20, 40, 60, 80, 100, 120], "title": null, "labelFontSize": 6, "labelColor": "#555", "tickSize": 3, "tickColor": "#bbb", "domainColor": "#bbb", "labelPadding": 2}}, "y2": {"field": "hi"}}},
                   {"transform": [{"filter": "isValid(datum.hi)"}], "mark": {"type": "tick", "color": "#222", "size": 4, "thickness": 0.8},
                    "encoding": {"y": {"field": "hi", "type": "quantitative", "scale": {"domain": [0, 120]}, "axis": {"values": [0, 20, 40, 60, 80, 100, 120], "title": null, "labelFontSize": 6, "labelColor": "#555", "tickSize": 3, "tickColor": "#bbb", "domainColor": "#bbb", "labelPadding": 2}}}},
                   {"transform": [{"filter": "isValid(datum.hi)"}], "mark": {"type": "tick", "color": "#222", "size": 4, "thickness": 0.8},
                    "encoding": {"y": {"field": "lo", "type": "quantitative", "scale": {"domain": [0, 120]}, "axis": {"values": [0, 20, 40, 60, 80, 100, 120], "title": null, "labelFontSize": 6, "labelColor": "#555", "tickSize": 3, "tickColor": "#bbb", "domainColor": "#bbb", "labelPadding": 2}}}}
                 ]},
                {"encoding": {
                   "x": {"field": "col", "type": "quantitative", "scale": {"domain": [0.5, 5.5], "nice": false, "zero": false},
                     "axis": {"orient": "top", "labels": false, "ticks": false, "domain": false, "title": "Combined Donors", "titleX": 67, "titleY": 9, "titleAlign": "center", "titleBaseline": "alphabetic", "titleFont": "Lato", "titleFontSize": 11.5, "titleFontWeight": "bold", "titleColor": "#1a1a1a"}},
                   "y": {"field": "row", "type": "nominal", "scale": {"type": "point", "domain": ["DMSO", "18BIOder"], "range": [132, 159], "padding": 0}, "axis": null}},
                 "layer": [
                   {"data": {"name": "CDtab"}, "mark": {"type": "text", "fontSize": 13, "fontWeight": "bold", "color": "#000", "baseline": "middle"}, "encoding": {"text": {"field": "sym"}}},
                   {"data": {"name": "CDtri"}, "mark": {"type": "point", "shape": "M-1,0.21L1,0.21L1,-0.21Z", "size": 5041, "filled": true, "color": "#000", "opacity": 1, "strokeWidth": 0}}
                 ]}
              ],
              "resolve": {"scale": {"x": "independent", "y": "independent"}}
            }
          ],
          "spacing": 20,
          "bounds": "flush"
        }
      ]
    }
  ]
}
